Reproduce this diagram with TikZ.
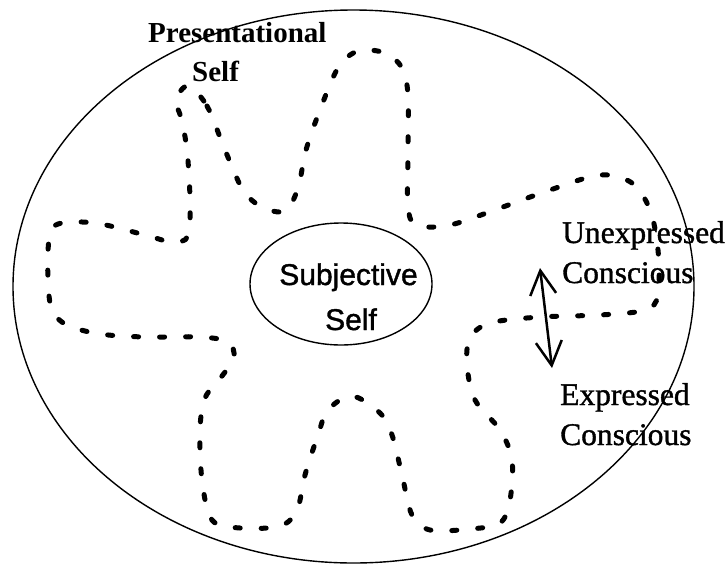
\documentclass[tikz,border=0pt]{standalone}
\usepackage{fontspec}
\setmainfont{Liberation Serif}
\newfontfamily\heavyserif[FakeBold=1.2]{Liberation Serif}
\newfontfamily\labelsans[FakeBold=1.2]{Liberation Sans}
\usetikzlibrary{arrows.meta,shapes.geometric}

\begin{document}
\begin{tikzpicture}[x=1pt,y=-1pt,
  boundary/.style={line width=1.4pt},
  zone/.style={line width=5pt, line cap=round, dash pattern=on 5pt off 21pt},
  lbl/.style={inner sep=0pt, anchor=base west, font=\heavyserif\fontsize{31.5}{38}\selectfont},
  boldlbl/.style={inner sep=0pt, anchor=base west, font=\fontsize{29}{35}\selectfont\bfseries},
  corelbl/.style={inner sep=0pt, anchor=base, font=\labelsans\fontsize{30}{36}\selectfont},
  swing/.style={line width=2.5pt,
    {Straight Barb[length=24pt,width=26pt]}-{Straight Barb[length=24pt,width=26pt]}}
]
\useasboundingbox (0,0) rectangle (727,565);

% outer boundary of the self
\draw[boundary] (353.5,286.5) ellipse [x radius=340.5pt, y radius=276.5pt];

% subjective core
\node[draw, ellipse, line width=1.4pt, minimum width=182pt, minimum height=122pt, inner sep=0pt]
  (core) at (341,284) {};
\node[corelbl] (coreA) at (348.5,285) {Subjective};
\node[corelbl] (coreB) at (351,330) {Self};

% boundary between expressed and unexpressed consciousness
\draw[zone] plot[smooth cycle, tension=0.55] coordinates {
  (188,86) (207,106) (225,150) (243,190) (262,207) (285,211) (298,188)
  (306,150) (320,110) (338,68) (358,51) (385,53) (402,68) (408,95)
  (408,150) (408,205) (416,225) (450,225) (500,208) (550,190) (600,175)
  (632,183) (650,210) (658,250) (658,295) (645,310) (600,315) (540,317)
  (490,323) (470,338) (467,365) (475,400) (500,430) (512,460) (510,500)
  (500,523) (470,529) (430,530) (412,515) (402,475) (392,435) (380,413)
  (352,396) (328,410) (318,435) (305,475) (297,510) (280,526) (240,528)
  (212,520) (202,480) (200,430) (205,398) (222,376) (234,358) (228,342)
  (200,337) (145,337) (100,334) (67,325) (52,310) (48,280) (49,240)
  (58,224) (95,223) (145,235) (172,242) (188,236) (190,200) (187,150)
  (181,118) (176,100)
};

% labels
\node[boldlbl] (presA) at (148,42) {Presentational};
\node[boldlbl] (presB) at (192,81) {Self};
\node[lbl] (unexpA) at (562,243) {Unexpressed};
\node[lbl] (unexpB) at (562,283) {Conscious};
\node[lbl] (expA) at (560,405) {Expressed};
\node[lbl] (expB) at (560,445) {Conscious};

% movement between the two states
\coordinate (upper) at (540,268);
\coordinate (lower) at (552,368);
\draw[swing] (upper) -- (lower);
\end{tikzpicture}
\end{document}
